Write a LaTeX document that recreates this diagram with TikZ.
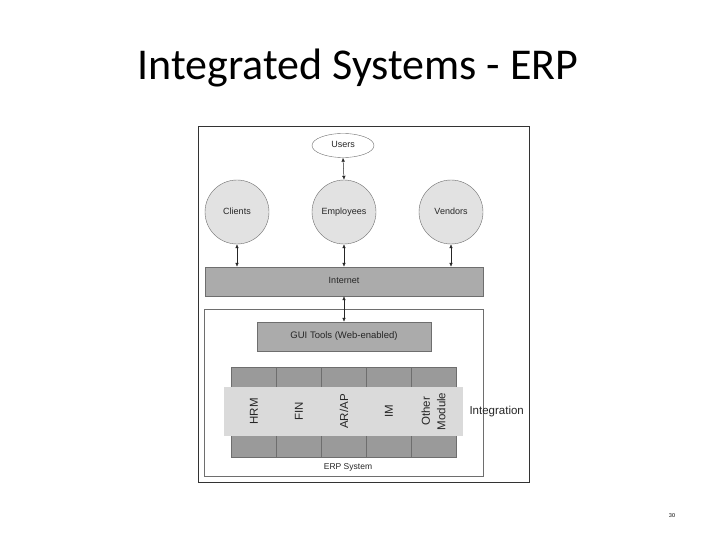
\documentclass[tikz,border=0pt]{standalone}
\usepackage{fontspec}
\setmainfont{Liberation Sans}
\newfontfamily\titlefont{Carlito}
\usetikzlibrary{shapes.geometric,arrows.meta}
\definecolor{darkfill}{HTML}{9A9A9A}
\definecolor{midfill}{HTML}{ABABAB}
\definecolor{lightfill}{HTML}{DADADA}
\definecolor{circfill}{HTML}{E2E2E2}
\definecolor{edgegray}{HTML}{6E6E6E}
\begin{document}
\begin{tikzpicture}[x=1pt,y=-1pt,
  lbl/.style={font=\fontsize{9}{10}\selectfont, text=black!85, text height=6.5pt, text depth=1.8pt},
  modlbl/.style={font=\fontsize{11.5}{13}\selectfont, text=black!85, rotate=90, align=center},
  circ/.style={circle, draw=edgegray, fill=circfill, minimum size=64pt, inner sep=0pt, lbl},
  bar/.style={draw=edgegray, fill=midfill, inner sep=0pt, lbl},
  dbl/.style={{Latex[length=4pt,width=3.5pt]}-{Latex[length=4pt,width=3.5pt]}, black!85, line width=0.5pt}
]
\useasboundingbox (0,0) rectangle (720,540);
\node[font=\titlefont\fontsize{44}{48}\selectfont, anchor=center] (title) at (358,68) {Integrated Systems - ERP};
% outer frame
\draw[black!80, line width=0.8pt, fill=white] (198,126) rectangle (529,482);
% Users
\node[ellipse, draw=edgegray, fill=white, minimum width=62pt, minimum height=24pt, inner sep=0pt, lbl] (users) at (343,145.5) {Users};
\node[circ] (clients) at (237,212) {Clients};
\node[circ] (employees) at (344,212) {Employees};
\node[circ] (vendors) at (451,212) {Vendors};
% Internet
\node[bar, minimum width=278pt, minimum height=29pt] (internet) at (344,281.5) {Internet};
% ERP system frame
\node[draw=edgegray, fill=white, minimum width=279pt, minimum height=167pt, inner sep=0pt] (erp) at (344,392.5) {};
\node[lbl, anchor=center, font=\fontsize{8.5}{10}\selectfont] (erplbl) at (348,467) {ERP System};
% GUI
\node[bar, minimum width=174pt, minimum height=29pt, font=\fontsize{9.5}{10}\selectfont] (gui) at (344,336.5) {GUI Tools (Web-enabled)};
% module columns (dark bands)
\foreach \i/\x in {0/231,1/276,2/321,3/366,4/411}{
  \node[draw=edgegray, fill=darkfill, minimum width=45pt, minimum height=90pt, inner sep=0pt, anchor=north west] (col\i) at (\x,367) {};
}
% integration band
\node[fill=lightfill, minimum width=239pt, minimum height=49pt, inner sep=0pt] (band) at (343.5,411.5) {};
\node[modlbl] (hrm) at (254,411.5) {HRM};
\node[modlbl] (fin) at (299,411.5) {FIN};
\node[modlbl] (arap) at (344,411.5) {AR/AP};
\node[modlbl] (im) at (389,411.5) {IM};
\node[modlbl] (other) at (433.5,411.5) {Other\\[2.5pt]Module};
\node[anchor=west, font=\fontsize{11.5}{12}\selectfont, text=black!85] (integ) at (466,412) {Integration};
% arrows
\draw[dbl] (users.south) -- (employees.north);
\draw[dbl] (clients.south) -- (clients.south |- internet.north);
\draw[dbl] (employees.south) -- (employees.south |- internet.north);
\draw[dbl] (vendors.south) -- (vendors.south |- internet.north);
\draw[dbl] (internet.south) -- (gui.north);
% page number
\node[font=\titlefont\fontsize{6}{7}\selectfont] (pg) at (672,516) {30};
\end{tikzpicture}
\end{document}
